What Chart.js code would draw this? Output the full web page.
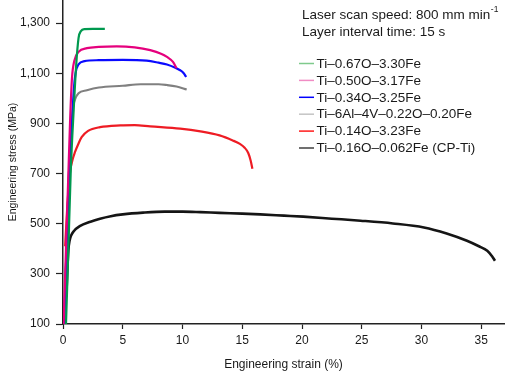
<!DOCTYPE html>
<html>
<head>
<meta charset="utf-8">
<script src="https://cdn.jsdelivr.net/npm/chart.js@4.4.1/dist/chart.umd.min.js"></script>
<style>
  html, body { margin: 0; padding: 0; background: #fff; }
  #wrap { width: 520px; height: 372px; }
</style>
</head>
<body>
<div id="wrap"><canvas id="GraficoTracao" width="520" height="372"></canvas></div>
<script>
// curvas tensao x deformacao, [deformacao %, tensao MPa]
var nomes = ['Ti\u20130.67O\u20133.30Fe', 'Ti\u20130.50O\u20133.17Fe', 'Ti\u20130.34O\u20133.25Fe',
             'Ti\u20136Al\u20134V\u20130.22O\u20130.20Fe', 'Ti\u20130.14O\u20133.23Fe', 'Ti\u20130.16O\u20130.062Fe (CP-Ti)'];
var cores = ['#00994f', '#e5007d', '#0a0aff', '#808080', '#ee1c24', '#151515'];
var coresLegenda = ['#7fca8c', '#f08cc4', '#0000ff', '#c4c4c4', '#ff1a1a', '#404040'];

var ti067 = [[0.25,100],[0.45,400],[0.65,712],[0.9,960],[1.1,1130],[1.3,1240],[1.5,1268],[1.8,1276],[2.5,1277],[3.5,1277]];
var ti050 = [[0.05,100],[0.45,700],[0.6,920],[0.75,1080],[0.95,1150],[1.3,1185],[2,1200],[3,1205],[4.5,1207],[6,1203],[7.3,1192],[8.2,1178],[8.7,1165],[9.2,1145],[9.5,1120]];
var ti034 = [[0.1,100],[0.5,700],[0.75,900],[0.9,1030],[1.05,1100],[1.3,1135],[1.8,1148],[3,1152],[5,1153],[7,1150],[8,1142],[8.7,1135],[9.4,1122],[9.8,1112],[10.1,1100],[10.3,1085]];
var ti64 = [[0.1,100],[0.5,700],[0.72,900],[0.82,960],[1.0,995],[1.3,1020],[2,1032],[3,1043],[5,1050],[6.5,1056],[8,1056],[8.7,1053],[9.5,1047],[10.35,1035]];
var ti014 = [[0.18,410],[0.35,560],[0.59,705],[0.8,755],[1.0,785],[1.3,820],[1.56,845],[2.1,870],[3.1,885],[4.8,892],[6,893],[7.3,888],[9.8,879],[11.5,868],[13.1,852],[14.2,832],[14.8,818],[15.2,803],[15.5,782],[15.7,752],[15.85,719]];
var cpti = [[0.28,210],[0.35,300],[0.45,395],[0.55,432],[0.7,455],[0.9,470],[1.4,490],[2.3,508],[3.1,520],[4,530],[5,537],[6.7,544],[8.5,548],[10,548],[11.5,546],[13.1,543],[15,540],[16.5,537],[18.5,532],[20.1,528],[22.5,520],[24.9,512],[27.6,501],[30.2,485],[32.1,461],[33.8,432],[34.8,410],[35.5,392],[35.9,370],[36.15,352]];
var curvas = [ti067, ti050, ti034, ti64, ti014, cpti];

var ticksX = [0, 5, 10, 15, 20, 25, 30, 35];
var ticksY = [100, 300, 500, 700, 900, 1100, 1300];
var fonte = '"Liberation Sans", Arial, sans-serif';

var legendaPlugin = {
    id: 'legendaTexto',
    afterDraw: function (chart) {
        var ctx = chart.ctx;
        ctx.save();
        ctx.fillStyle = '#1a1a1a';
        ctx.textBaseline = 'middle';
        ctx.font = '13.5px ' + fonte;
        var t1 = 'Laser scan speed: 800 mm min';
        ctx.fillText(t1, 302, 15);
        var w = ctx.measureText(t1).width;
        ctx.font = '8.5px ' + fonte;
        ctx.fillText('-1', 302 + w + 0.5, 10);
        ctx.font = '13.5px ' + fonte;
        ctx.fillText('Layer interval time: 15 s', 302, 32);
        chart.data.datasets.forEach(function (ds, i) {
            var y = 63.5 + i * 16.9;
            ctx.strokeStyle = coresLegenda[i];
            ctx.lineWidth = 1.5;
            ctx.beginPath();
            ctx.moveTo(299, y);
            ctx.lineTo(314, y);
            ctx.stroke();
            ctx.fillText(ds.label, 316.5, y + 0.5);
        });
        ctx.restore();
    }
};

new Chart(document.getElementById('GraficoTracao'), {
    type: 'line',
    data: {
        datasets: curvas.map(function (c, i) {
            return {
                label: nomes[i],
                data: c.map(function (p) { return { x: p[0], y: p[1] }; }),
                borderColor: cores[i],
                backgroundColor: cores[i],
                borderWidth: i === 5 ? 2.6 : 2.2,
                pointRadius: 0,
                fill: false,
                cubicInterpolationMode: 'monotone'
            };
        })
    },
    options: {
        responsive: false,
        animation: false,
        layout: { padding: { top: 0, right: 16, left: 0, bottom: 0 } },
        plugins: {
            legend: { display: false },
            tooltip: { enabled: false }
        },
        scales: {
            x: {
                type: 'linear',
                min: 0,
                max: 36.9,
                afterBuildTicks: function (s) { s.ticks = ticksX.map(function (v) { return { value: v }; }); },
                afterFit: function (s) { s.height = 48; s.paddingLeft = 0; s.paddingRight = 0; },
                grid: { drawOnChartArea: false, drawTicks: true, tickLength: 5, color: '#222', tickWidth: 1.2 },
                border: { display: true, color: '#222', width: 1.5 },
                ticks: { color: '#1a1a1a', font: { family: fonte, size: 12 }, padding: 4, maxRotation: 0 },
                title: { display: true, text: 'Engineering strain (%)', color: '#1a1a1a', font: { family: fonte, size: 12 }, padding: { top: 2, bottom: 0 } }
            },
            y: {
                min: 100,
                max: 1392,
                afterBuildTicks: function (s) { s.ticks = ticksY.map(function (v) { return { value: v }; }); },
                afterFit: function (s) { s.width = 63; s.paddingTop = 0; s.paddingBottom = 0; },
                grid: { drawOnChartArea: false, drawTicks: true, tickLength: 7, color: '#222', tickWidth: 1.2 },
                border: { display: true, color: '#222', width: 1.5 },
                ticks: {
                    color: '#1a1a1a',
                    font: { family: fonte, size: 12 },
                    padding: 6,
                    callback: function (v) { return v.toLocaleString('en-US'); }
                },
                title: { display: true, text: 'Engineering stress (MPa)', color: '#1a1a1a', font: { family: fonte, size: 10.5 }, padding: { top: 7, bottom: 0 } }
            }
        }
    },
    plugins: [legendaPlugin]
});
</script>
</body>
</html>
